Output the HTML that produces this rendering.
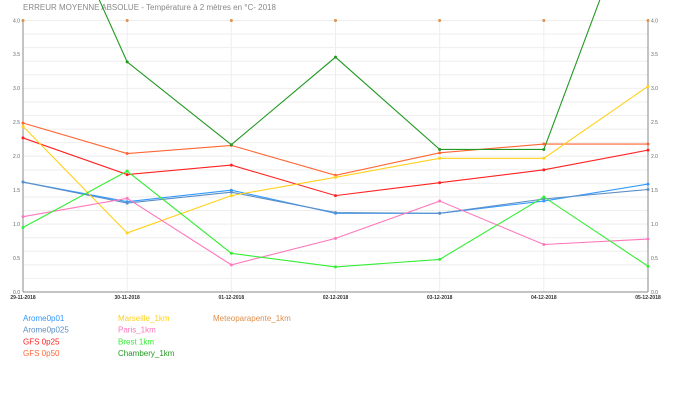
<!DOCTYPE html>
<html><head><meta charset="utf-8"><style>
body{margin:0;background:#fff;font-family:"Liberation Sans",sans-serif}
svg{display:block}
</style></head><body>
<svg id="c" width="700" height="400">
<text x="23" y="10" font-size="8" fill="#888">ERREUR MOYENNE ABSOLUE - Température à 2 mètres en °C- 2018</text>
<g id="grid"></g><g id="axes"></g><g id="series"></g><g id="legend"></g>
</svg>
<script>
const categories=["29-11-2018","30-11-2018","01-12-2018","02-12-2018","03-12-2018","04-12-2018","05-12-2018"];
const yTicks=[0,0.5,1,1.5,2,2.5,3,3.5,4];
const seriesNames=["Arome0p01","Arome0p025","GFS 0p25","GFS 0p50","Marseille_1km","Paris_1km","Brest 1km","Chambery_1km","Meteoparapente_1km"];
const seriesColors=["#3399ff","#5b8fc7","#ff2222","#ff6633","#ffd11a","#ff77bb","#33ee33","#229922","#e0904a"];
const arome0p01=[1.62,1.33,1.50,1.16,1.16,1.34,1.59];
const arome0p025=[1.62,1.31,1.47,1.17,1.16,1.37,1.51];
const gfs0p25=[2.27,1.73,1.87,1.42,1.61,1.80,2.09];
const gfs0p50=[2.49,2.04,2.16,1.72,2.05,2.18,2.18];
const marseille=[2.44,0.87,1.42,1.69,1.97,1.97,3.03];
const paris=[1.11,1.38,0.40,0.79,1.34,0.70,0.78];
const brest=[0.95,1.78,0.57,0.37,0.48,1.40,0.38];
const chambery=[6.8,3.39,2.17,3.46,2.10,2.10,6.2];
const meteoparapente=[4,4,4,4,4,4,4];
const allSeries=[arome0p01,arome0p025,gfs0p25,gfs0p50,marseille,paris,brest,chambery,meteoparapente];
const NS="http://www.w3.org/2000/svg";
const X0=23,X1=648,Y0=292,Y1=20.5,YMAX=4;
const xs=i=>X0+(X1-X0)*i/(categories.length-1);
const ys=v=>Y0-(Y0-Y1)*v/YMAX;
function mk(p,t,a){const e=document.createElementNS(NS,t);for(const k in a)e.setAttribute(k,a[k]);p.appendChild(e);return e;}
const grid=document.getElementById('grid'),axes=document.getElementById('axes'),ser=document.getElementById('series'),leg=document.getElementById('legend');
for(let v=0.2;v<=4.001;v+=0.2){const l=mk(grid,'line',{x1:X0,x2:X1,y1:ys(v),y2:ys(v),stroke:'#eee','stroke-width':1});

}
categories.forEach((c,i)=>{const l=mk(grid,'line',{x1:xs(i),x2:xs(i),y1:Y1,y2:Y0,stroke:'#eee'});


const t=mk(axes,'text',{x:xs(i),y:Y0+7,'font-size':5,'text-anchor':'middle',fill:'#333','font-weight':'bold'});t.textContent=c;

});
[X0,X1].forEach((x,k)=>{const l=mk(axes,'line',{x1:x,x2:x,y1:Y1,y2:Y0,stroke:'#888'});

});
const xa=mk(axes,'line',{x1:X0,x2:X1,y1:Y0,y2:Y0,stroke:'#888'});


yTicks.forEach(v=>{[[X0-3,'end'],[X1+3,'start']].forEach(([x,a])=>{const t=mk(axes,'text',{x:x,y:ys(v)+1.8,'font-size':5,'text-anchor':a,fill:'#666'});t.textContent=v.toFixed(1);

});});
const cp=mk(ser,'clipPath',{id:'cl'});mk(cp,'rect',{x:0,y:0,width:700,height:Y0});
allSeries.forEach((d,s)=>{const g=mk(ser,'g',{'clip-path':'url(#cl)'});


if(s<8){const p=mk(g,'polyline',{points:d.map((v,i)=>xs(i)+','+ys(v)).join(' '),fill:'none',stroke:seriesColors[s],'stroke-width':1.1});

}
d.forEach((v,i)=>{const c=mk(g,'circle',{cx:xs(i),cy:ys(v),r:1.5,fill:seriesColors[s]});

});});
seriesNames.forEach((n,s)=>{const col=s<4?0:(s<8?1:2),row=s<4?s:(s<8?s-4:0);
const t=mk(leg,'text',{x:23+col*95,y:321+row*11.7,'font-size':8,fill:seriesColors[s]});t.textContent=n;

});
</script>
</body></html>
